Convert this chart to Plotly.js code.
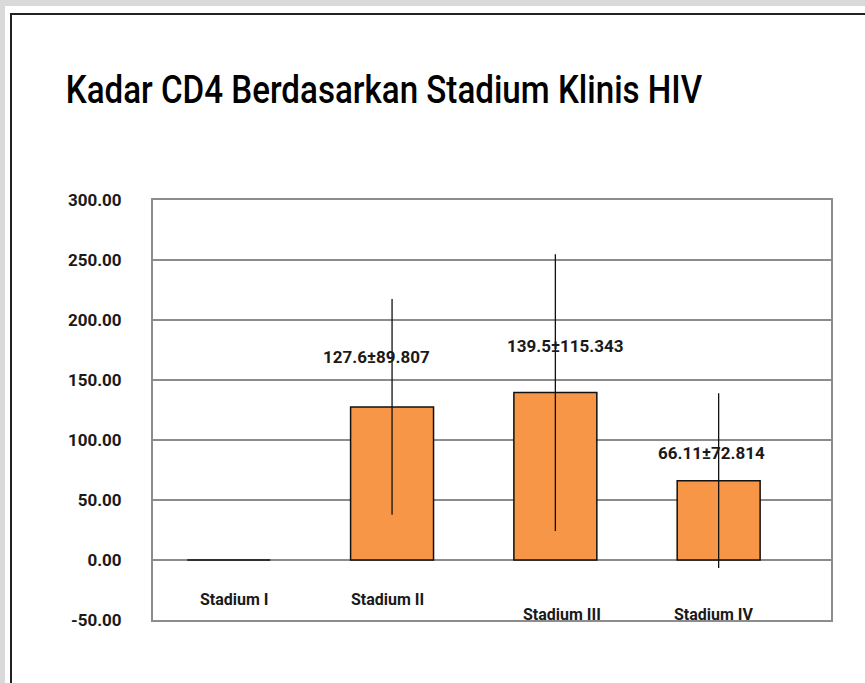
<!DOCTYPE html>
<html>
<head>
<meta charset="utf-8">
<script src="https://cdn.plot.ly/plotly-3.0.1.min.js"></script>
<style>
  html, body { margin: 0; padding: 0; background: #d9d9d9; width: 865px; height: 683px; overflow: hidden; }
  #frame { position: absolute; left: 5px; top: 6px; width: 860px; height: 677px; background: #ffffff; }
  #border { position: absolute; left: 10px; top: 13px; width: 870px; height: 700px; border-left: 2px solid #222; border-top: 2px solid #222; box-sizing: border-box; }
  #chart { position: absolute; left: 0; top: 0; width: 865px; height: 683px; }
</style>
</head>
<body>
<div id="frame"></div>
<div id="border"></div>
<div id="chart"></div>
<script>
const categories = ["Stadium I", "Stadium II", "Stadium III", "Stadium IV"];
const meanCD4 = [0, 127.6, 139.5, 66.11];
const sdCD4 = [0, 89.807, 115.343, 72.814];
const barLabels = ["", "127.6±89.807", "139.5±115.343", "66.11±72.814"];
const yTickVals = [-50, 0, 50, 100, 150, 200, 250, 300];
const yTickText = ["-50.00", "0.00", "50.00", "100.00", "150.00", "200.00", "250.00", "300.00"];

const FONT = "Roboto, 'DejaVu Sans', sans-serif";
const labelShiftY = [0, 38, 35, 16];
const labelShiftX = [0, -16, 10, -7];
const catLabelShiftY = [-28, -28, -43, -43];
const catLabelShiftX = [6, -5, 7, -5];

const trace = {
  type: "bar",
  x: categories,
  y: meanCD4,
  width: 0.508,
  marker: { color: "#F79646", line: { color: "#111111", width: 1.5 } },
  error_y: { type: "data", array: sdCD4, visible: true, symmetric: true, color: "#111111", thickness: 1.3, width: 0 },
  hoverinfo: "none"
};

const annotations = [];
categories.forEach((c, i) => {
  if (barLabels[i]) {
    annotations.push({
      x: c, y: meanCD4[i], xref: "x", yref: "y", text: barLabels[i], showarrow: false,
      yanchor: "bottom", yshift: labelShiftY[i], xshift: labelShiftX[i],
      font: { family: FONT, size: 17, color: "#1a1a1a", weight: "bold" }
    });
  }
  annotations.push({
    x: c, y: 0, xref: "x", yref: "y", text: c, showarrow: false,
    yanchor: "top", yshift: catLabelShiftY[i], xshift: catLabelShiftX[i],
    font: { family: FONT, size: 16, color: "#1a1a1a", weight: "bold" }
  });
});

const layout = {
  width: 865, height: 683,
  paper_bgcolor: "rgba(0,0,0,0)",
  plot_bgcolor: "#ffffff",
  margin: { l: 153, r: 34, t: 200, b: 63 },
  showlegend: false,
  title: {
    text: "Kadar CD4 Berdasarkan Stadium Klinis HIV",
    x: 0.076, xref: "container", xanchor: "left", y: 0.888, yref: "container", yanchor: "top",
    pad: { t: 0, l: 0 },
    font: { family: FONT, size: 38, color: "#000000", weight: 500 }
  },
  xaxis: {
    type: "category",
    range: [-0.464, 3.688],
    showticklabels: false,
    showgrid: false,
    zeroline: false,
    showline: true, mirror: true, linecolor: "#8c8c8c", linewidth: 2,
    ticks: ""
  },
  yaxis: {
    range: [-50, 300],
    tickvals: yTickVals,
    ticktext: yTickText,
    showgrid: true, gridcolor: "#8c8c8c", gridwidth: 2,
    zeroline: true, zerolinecolor: "#8c8c8c", zerolinewidth: 2,
    showline: true, mirror: true, linecolor: "#8c8c8c", linewidth: 2,
    ticks: "", ticklabelstandoff: 26,
    tickfont: { family: FONT, size: 17, color: "#1a1a1a", weight: "bold" }
  },
  annotations: annotations
};

Plotly.newPlot("chart", [trace], layout, { displayModeBar: false, staticPlot: true }).then(() => {
  // narrow the title to mimic the condensed face of the reference
  const t = document.querySelector("#chart .gtitle");
  if (t) {
    const bb = t.getBBox();
    const target = 637;
    const s = target / bb.width;
    const prev = t.getAttribute("transform") || "";
    t.setAttribute("transform", prev + ` translate(${bb.x * (1 - s)},0) scale(${s},1)`);
  }
});
</script>
</body>
</html>
